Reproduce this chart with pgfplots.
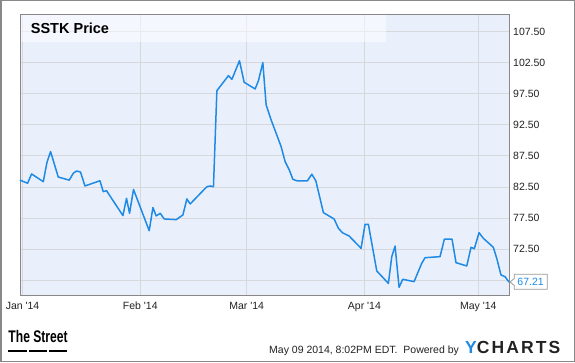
\documentclass[border=0pt]{standalone}
\usepackage{pgfplots}
\pgfplotsset{compat=1.18}
\usepackage{fontspec}
\setmainfont{Liberation Sans}
\definecolor{bgblue}{HTML}{EAF0FB}
\definecolor{gridgray}{HTML}{D6D8DB}
\definecolor{lineblue}{HTML}{1E8AE6}
\definecolor{framegray}{HTML}{888888}
\definecolor{txt}{HTML}{222222}

\pgfplotstableread{
d v
-0.68 83.6
1.32 83.1
2.37 84.6
5.45 83.35
6.40 86.4
7.37 88.2
9.39 84.1
12.29 83.6
13.34 84.7
14.21 85.07
15.26 84.9
16.42 82.66
20.37 83.5
21.24 81.75
22.10 81.9
26.42 77.9
27.37 80.68
28.16 78.27
29.21 82.1
33.34 75.47
34.32 79.2
35.18 77.84
36.24 78.27
37.29 77.36
40.45 77.25
42.21 78.0
43.26 80.57
44.13 79.77
48.53 82.55
49.39 82.66
50.26 82.55
51.16 97.98
54.21 100.4
55.11 99.8
57.11 102.8
58.34 99.33
61.24 98.26
62.11 99.6
63.26 102.5
64.13 95.68
65.45 93.27
68.08 88.98
69.13 86.57
70.26 85.2
71.16 83.74
72.21 83.5
75.00 83.5
76.16 84.55
77.21 83.5
79.21 78.37
82.03 77.36
83.16 75.86
84.21 75.15
85.97 74.62
89.13 72.64
90.18 76.5
91.05 76.5
93.26 69.0
96.32 67.0
97.21 71.3
98.08 73.0
99.13 66.37
100.10 67.66
103.08 67.28
105.10 70.23
105.97 71.13
109.92 71.3
111.05 74.1
113.08 74.1
114.13 70.33
116.95 69.8
118.08 72.8
118.95 72.58
120.18 75.15
121.32 74.25
123.95 72.8
124.84 71.04
125.97 68.35
127.03 68.08
128.08 67.21
}\sstk

\begin{document}
\begin{tikzpicture}[x=1bp,y=1bp]
\path[use as bounding box] (0,0) rectangle (575,362);
\fill[white] (0,0) rectangle (575,362);
\draw[framegray, line width=1.5bp] (0.75,0.75) rectangle (574.25,361.25);
\begin{axis}[
  at={(20bp,66.3bp)}, anchor=south west,
  scale only axis, width=489bp, height=280.7bp,
  xmin=-0.68, xmax=128.08, ymin=65.02, ymax=110.15,
  axis background/.style={fill=bgblue},
  axis line style={draw=framegray, line width=1bp},
  xtick={0,31,59,90,120},
  xticklabels={Jan \textquotesingle14, Feb \textquotesingle14, Mar \textquotesingle14, Apr \textquotesingle14, May \textquotesingle14},
  ytick={67.5,72.5,77.5,82.5,87.5,92.5,97.5,102.5,107.5},
  yticklabels={,72.50,77.50,82.50,87.50,92.50,97.50,102.50,107.50},
  grid=major, major grid style={draw=gridgray, line width=0.8bp},
  major tick length=0pt,
  yticklabel pos=right,
  /pgf/number format/assume math mode=true,
  ticklabel style={font=\fontsize{10.5bp}{12bp}\selectfont, text=txt, inner sep=0pt},
  yticklabel style={anchor=west, xshift=4bp},
  xticklabel style={anchor=north, yshift=-6bp},
  clip=false,
]
\addplot[lineblue, line width=1.5bp, line join=round, mark=none] table[x=d, y=v] {\sstk};
\end{axis}
% title box
\fill[white, opacity=0.5] (20.5,320) rectangle (386,346.5);
\node[anchor=base west, inner sep=0, text=black, font=\bfseries\fontsize{14.5bp}{16bp}\selectfont] at (30.7,328.7) {SSTK Price};
% last value label
\draw[fill=white, draw=gray!80, line width=0.8bp] (514.3,87.7) -- (547.3,87.7) -- (547.3,72.7) -- (514.3,72.7) -- (514.3,76.5) -- (510,80) -- (514.3,83.5) -- cycle;
\node[text=lineblue, inner sep=0, font=\fontsize{10.5bp}{12bp}\selectfont] at (530.6,79.8) {67.21};
% footer
\node[anchor=base west, inner sep=0] at (8.3,19.7) {\scalebox{0.72}[1]{\fontsize{16.8bp}{18bp}\selectfont\bfseries The Street}};
\fill[black] (8.3,10.2) rectangle (26.7,12.4);
\fill[black] (29.3,10.2) rectangle (46.7,12.4);
\fill[black] (49.3,10.2) rectangle (67.3,12.4);
\node[anchor=base west, inner sep=0, text=txt, font=\fontsize{10.5bp}{12bp}\selectfont] at (269,8.7) {May 09 2014, 8:02PM EDT.\ \ Powered by};
\node[anchor=base west, inner sep=0] at (465,8.7) {\fontsize{17.5bp}{18bp}\selectfont\bfseries\addfontfeature{LetterSpace=12}\textcolor{lineblue}{Y}\textcolor{txt}{CHARTS}};
\end{tikzpicture}
\end{document}
